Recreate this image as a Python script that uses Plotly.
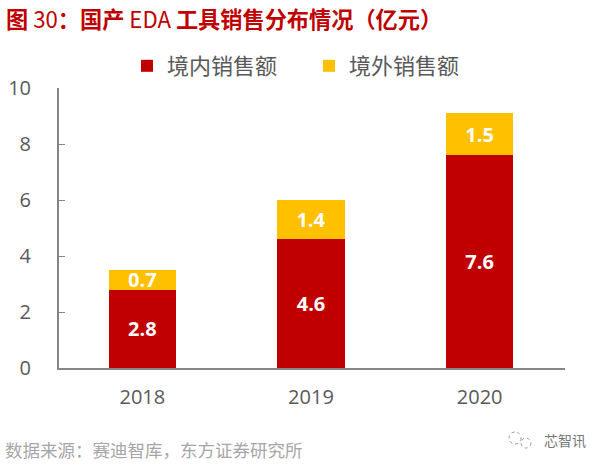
import plotly.graph_objects as go

years = ["2018", "2019", "2020"]
domestic = [2.8, 4.6, 7.6]
overseas = [0.7, 1.4, 1.5]
title = "<b>图</b> 30<b>\uff1a国产</b> EDA <b>工具销售分布情况\uff08亿元\uff09</b>"
source = "数据来源\uff1a赛迪智库\uff0c东方证券研究所"
watermark = "芯智讯"
CJK = "Noto Sans CJK SC"
LATIN = "Open Sans"
L, R, T, B = 59, 565, 88, 368
W, H = 602, 468


def px(x):
    return (x - L) / (R - L)


def py(y):
    return 1 - (y - T) / (B - T)


fig = go.Figure()
label_font = dict(color="white", size=20, family=LATIN, weight="bold")
fig.add_bar(x=years, y=domestic, name="境内销售额", marker_color="#C00000", marker_line_width=0,
            text=[f"{v:.1f}" for v in domestic], textposition="inside", insidetextanchor="middle",
            textangle=0, textfont=label_font, constraintext="none")
fig.add_bar(x=years, y=overseas, name="境外销售额", marker_color="#FFC000", marker_line_width=0,
            text=[f"{v:.1f}" for v in overseas], textposition="inside", insidetextanchor="middle",
            textangle=0, textfont=label_font, constraintext="none")
fig.update_layout(
    width=W, height=H, autosize=False, barmode="stack", bargap=0.6,
    paper_bgcolor="white", plot_bgcolor="white",
    margin=dict(l=L, r=W - R, t=T, b=H - B, autoexpand=False),
    font=dict(family=CJK, color="#595959"),
    legend=dict(orientation="h", x=px(127), xanchor="left", y=py(87), yanchor="bottom",
                font=dict(size=22, family=CJK, color="#595959"), itemwidth=30,
                entrywidth=137, entrywidthmode="pixels",
                traceorder="normal", itemsizing="constant"),
)
fig.add_annotation(text=title, xref="paper", yref="paper", x=px(6), y=py(18),
                   xanchor="left", yanchor="middle", showarrow=False, xshift=-2,
                   font=dict(size=22.2, color="#C00000", family=CJK))
fig.add_annotation(text=source, xref="paper", yref="paper", x=px(6), y=py(449),
                   xanchor="left", yanchor="middle", showarrow=False, xshift=-3,
                   font=dict(size=17.5, color="#A6A6A6", family=CJK))
fig.add_annotation(text=watermark, xref="paper", yref="paper", x=px(588), y=py(440),
                   xanchor="right", yanchor="middle", showarrow=False,
                   font=dict(size=14, color="#777777", family=CJK))
for cx, cy, r in [(515, 438, 6), (526, 443, 5)]:
    fig.add_shape(type="circle", xref="paper", yref="paper",
                  x0=px(cx - r), x1=px(cx + r), y0=py(cy + r), y1=py(cy - r),
                  line=dict(color="#999999", width=1, dash="dot"))
fig.update_xaxes(range=[-0.494, 2.506], showline=True, linecolor="#868686", linewidth=2, ticks="",
                 showgrid=False, automargin=False, tickfont=dict(size=20, family=LATIN, color="#595959"),
                 ticklabelstandoff=10)
fig.update_yaxes(range=[0, 10], dtick=2, showline=True, linecolor="#868686", linewidth=2,
                 ticks="inside", ticklen=6, tickcolor="#868686", showgrid=False, zeroline=False,
                 automargin=False, tickfont=dict(size=20, family=LATIN, color="#595959"),
                 ticklabelstandoff=22)
fig.write_html("out.html", config=dict(displayModeBar=False),
               post_script="document.body.style.margin='0';")
